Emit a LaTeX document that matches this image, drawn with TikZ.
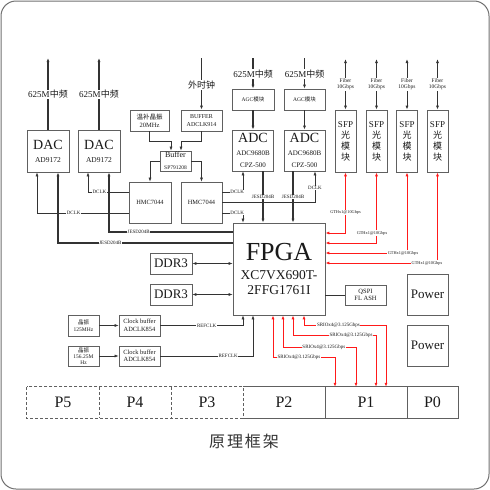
\documentclass[tikz,border=0pt]{standalone}
\usepackage{fontspec}
\setmainfont{Liberation Serif}
\newfontfamily\cjk{Noto Sans CJK SC}
\newfontfamily\capfont[LetterSpace=12]{Noto Sans CJK SC}
\usetikzlibrary{arrows.meta}
\definecolor{boxc}{HTML}{606060}
\definecolor{linec}{HTML}{333333}
\definecolor{txtc}{HTML}{1A1A1A}
\definecolor{framec}{HTML}{707070}
\definecolor{redc}{HTML}{FF1A1A}
\definecolor{capc}{HTML}{333333}
\newcommand\fsz[2]{\fontsize{#1}{#2}\selectfont}
\begin{document}
\begin{tikzpicture}[x=1pt,y=-1pt,
  box/.style={draw=boxc, line width=0.7pt, fill=white, inner sep=0pt, align=center, text=txtc},
  lbl/.style={fill=white, inner sep=0.6pt, text=txtc, font=\fsz{5}{5}, align=center},
  arr/.style={-{Latex[length=4pt,width=3pt]}},
  darr/.style={{Latex[length=4pt,width=3pt]}-{Latex[length=4pt,width=3pt]}},
  tline/.style={draw=linec, line width=0.6pt},
  mline/.style={draw=linec, line width=0.8pt},
  thk/.style={draw=linec, line width=1.1pt},
  redln/.style={draw=redc, line width=1pt},
  pbox/.style={inner sep=0pt, minimum height=31pt, text=txtc, font=\fsz{16}{16}},
  edge/.style={draw=boxc, line width=0.7pt}
]
\useasboundingbox (0,0) rectangle (490,490);
\draw[framec, line width=1pt, rounded corners=15pt] (1,1) rectangle (489,489);

% ---------- boxes ----------
\node[box, minimum width=42pt, minimum height=42pt] (dac1) at (48,151) {{\fsz{14}{14}DAC}\\[1pt]{\fsz{7.5}{8}AD9172}};
\node[box, minimum width=42pt, minimum height=42pt] (dac2) at (99,151) {{\fsz{14}{14}DAC}\\[1pt]{\fsz{7.5}{8}AD9172}};
\node[box, minimum width=39pt, minimum height=21pt, font=\fsz{6.5}{8}] (wb) at (149.5,120.5) {{\cjk 温补晶振}\\20MHz};
\node[box, minimum width=41pt, minimum height=21pt, font=\fsz{6}{7.5}] (b914) at (201.5,120.5) {BUFFER\\ADCLK914};
\node[box, minimum width=31pt, minimum height=20pt] (buf) at (175.5,161) {{\fsz{8}{8}Buffer}\\{\fsz{5.5}{6.5}SP791208}};
\node[box, minimum width=42pt, minimum height=41pt, font=\fsz{6.4}{7}] (hmc1) at (150,202.5) {HMC7044};
\node[box, minimum width=41pt, minimum height=41pt, font=\fsz{6.4}{7}] (hmc2) at (201.5,202.5) {HMC7044};
\node[box, minimum width=42pt, minimum height=21pt, font=\fsz{5.5}{6}] (agc1) at (253,99.5) {AGC{\cjk 模块}};
\node[box, minimum width=41pt, minimum height=21pt, font=\fsz{5.5}{6}] (agc2) at (304.5,99.5) {AGC{\cjk 模块}};
\node[box, minimum width=41pt, minimum height=41pt] (adc1) at (253,150.5) {{\fsz{14}{14}ADC}\\[1pt]{\fsz{7}{8.5}ADC9680B}\\{\fsz{7}{8.5}CPZ-500}};
\node[box, minimum width=41pt, minimum height=41pt] (adc2) at (304.5,150.5) {{\fsz{14}{14}ADC}\\[1pt]{\fsz{7}{8.5}ADC9680B}\\{\fsz{7}{8.5}CPZ-500}};
\node[box, minimum width=21pt, minimum height=62pt, font=\fsz{9}{11}] (sfp1) at (345.5,141) {SFP\\{\cjk 光}\\{\cjk 模}\\{\cjk 块}};
\node[box, minimum width=21pt, minimum height=62pt, font=\fsz{9}{11}] (sfp2) at (376.5,141) {SFP\\{\cjk 光}\\{\cjk 模}\\{\cjk 块}};
\node[box, minimum width=21pt, minimum height=62pt, font=\fsz{9}{11}] (sfp3) at (407,141) {SFP\\{\cjk 光}\\{\cjk 模}\\{\cjk 块}};
\node[box, minimum width=21pt, minimum height=62pt, font=\fsz{9}{11}] (sfp4) at (437.5,141) {SFP\\{\cjk 光}\\{\cjk 模}\\{\cjk 块}};
\node[box, minimum width=92pt, minimum height=92pt, font=\fsz{13.5}{15}] (fpga) at (279,269) {{\fsz{26}{26}FPGA}\\[4pt]XC7VX690T-\\2FFG1761I};
\node[box, minimum width=42pt, minimum height=21pt, font=\fsz{13}{13}] (ddr1) at (171,263.5) {DDR3};
\node[box, minimum width=42pt, minimum height=21pt, font=\fsz{13}{13}] (ddr2) at (171,294.5) {DDR3};
\node[box, minimum width=41pt, minimum height=20pt, font=\fsz{6.5}{7.5}] (qspi) at (365.5,295) {QSPI\\FL ASH};
\node[box, minimum width=41pt, minimum height=41pt, font=\fsz{13}{13}] (pw1) at (427.5,294.5) {Power};
\node[box, minimum width=41pt, minimum height=41pt, font=\fsz{13}{13}] (pw2) at (427.5,345.5) {Power};
\node[box, minimum width=31pt, minimum height=21pt, font=\fsz{5.5}{6.5}] (xz1) at (83.5,325.5) {{\cjk 晶振}\\125MHz};
\node[box, minimum width=31pt, minimum height=20pt, font=\fsz{5.5}{6}] (xz2) at (83.5,356) {{\cjk 晶振}\\156.25M\\Hz};
\node[box, minimum width=41pt, minimum height=21pt, font=\fsz{6.4}{7.5}] (cb1) at (139.5,325.5) {Clock buffer\\ADCLK854};
\node[box, minimum width=41pt, minimum height=20pt, font=\fsz{6.4}{7.5}] (cb2) at (139.5,356) {Clock buffer\\ADCLK854};

% bottom slots
\node[pbox, minimum width=72pt] (p5) at (63,402.5) {P5};
\node[pbox, minimum width=72pt] (p4) at (135,402.5) {P4};
\node[pbox, minimum width=72pt] (p3) at (207,402.5) {P3};
\node[pbox, minimum width=82pt] (p2) at (284,402.5) {P2};
\node[pbox, minimum width=82pt] (p1) at (366,402.5) {P1};
\node[pbox, minimum width=51pt] (p0) at (432.5,402.5) {P0};
\draw[edge, dash pattern=on 3pt off 2pt] (p5.north west) rectangle (p3.south east);
\draw[edge, dash pattern=on 3pt off 2pt] (p5.north east) -- (p5.south east) (p4.north east) -- (p4.south east);
\draw[edge] (p3.north east) -- (p0.north east) -- (p0.south east) -- (p3.south east);
\draw[edge] (p2.north east) -- (p2.south east) (p1.north east) -- (p1.south east);

% ---------- outputs / inputs at top ----------
\coordinate (dac1o) at (48,58);
\coordinate (dac2o) at (99,58);
\coordinate (extc) at (201.5,58);
\coordinate (adc1i) at (253,58);
\coordinate (adc2i) at (304.5,58);
\coordinate (f1) at (345.5,59);
\coordinate (f2) at (376.5,59);
\coordinate (f3) at (407,59);
\coordinate (f4) at (437.5,59);
\draw[thk,arr] (dac1.north) -- node[lbl,pos=0.49,font=\fsz{9}{9}] {625M{\cjk 中频}} (dac1o);
\draw[thk,arr] (dac2.north) -- node[lbl,pos=0.49,font=\fsz{9}{9}] {625M{\cjk 中频}} (dac2o);
\draw[thk,arr] (extc) -- node[lbl,pos=0.52,font=\fsz{9}{9}] {\cjk 外时钟} (b914.north);
\draw[thk,arr] (adc1i) -- node[lbl,pos=0.52,font=\fsz{9}{9}] {625M{\cjk 中频}} (agc1.north);
\draw[thk,arr] (adc2i) -- node[lbl,pos=0.52,font=\fsz{9}{9}] {625M{\cjk 中频}} (agc2.north);
\draw[thk,arr] (agc1.south) -- (adc1.north);
\draw[thk,arr] (agc2.south) -- (adc2.north);
\foreach \i in {1,2,3,4}{
  \draw[mline,darr] (f\i) -- node[lbl,font=\fsz{5.5}{6.5}] {Fiber\\10Gbps} (sfp\i.north);
}

% ---------- clock tree ----------
\draw[tline,arr] (wb.south) -- ++(0,10) -| ([xshift=-4.5pt]buf.north);
\draw[tline,arr] (b914.south) -- ++(0,10) -| ([xshift=5.5pt]buf.north);
\draw[tline,arr] (buf.west) -| (hmc1.north);
\draw[tline,arr] (buf.east) -| (hmc2.north);

% DCLK to DACs
\draw[tline,arr] ([yshift=10.5pt]hmc1.west) -| node[lbl,pos=0.36]{DCLK} ([xshift=-11pt]dac2.south);
\draw[tline,arr] ([yshift=-10.5pt]hmc1.west) -| node[lbl,pos=0.30]{DCLK} ([xshift=-11pt]dac1.south);
% JESD to DACs
\draw[thk,arr] ([yshift=37pt]fpga.west) -| node[lbl,pos=0.38]{JESD204B} ([xshift=10pt]dac2.south);
\draw[thk,arr] ([yshift=26pt]fpga.west) -| node[lbl,pos=0.35]{JESD204B} ([xshift=10pt]dac1.south);

% HMC2 to ADCs / FPGA
\draw[tline,arr] ([yshift=10.5pt]hmc2.east) -| node[lbl,pos=0.36]{DCLK} ([xshift=-10pt]adc1.south);
\draw[tline,arr] (hmc2.east) -| node[lbl,pos=0.735]{DCLK} ([xshift=10.5pt]adc2.south);
\draw[tline,arr] ([yshift=-10.5pt]hmc2.east) -| node[lbl,pos=0.36]{DCLK} ([xshift=-36pt]fpga.north);

% JESD from ADCs
\draw[thk,arr] ([xshift=10pt]adc1.south) -- node[lbl]{JESD204B} ([xshift=-16pt]fpga.north);
\draw[thk,arr] ([xshift=-11.5pt]adc2.south) -- node[lbl]{JESD204B} ([xshift=14pt]fpga.north);

% SFP links
\draw[redln,darr] ([yshift=36pt]fpga.east) -| node[lbl,pos=0.67,font=\fsz{4.3}{4.3}]{GTHx1@10Gbps} (sfp1.south);
\draw[redln,darr] ([yshift=26pt]fpga.east) -| node[lbl,pos=0.456,yshift=10pt,font=\fsz{4.3}{4.3}]{GTHx1@10Gbps} (sfp2.south);
\draw[redln,darr] ([yshift=16pt]fpga.east) -| node[lbl,pos=0.476,font=\fsz{4.3}{4.3}]{GTHx1@10Gbps} (sfp3.south);
\draw[redln,darr] ([yshift=6pt]fpga.east) -| node[lbl,pos=0.453,font=\fsz{4.3}{4.3}]{GTHx1@10Gbps} (sfp4.south);

% DDR and flash
\draw[tline,darr] (ddr1.east) -- (fpga.west |- ddr1.east);
\draw[tline,darr] (ddr2.east) -- (fpga.west |- ddr2.east);
\draw[tline] (fpga.east |- qspi.west) -- (qspi.west);

% reference clocks
\draw[tline,arr] (xz1.east) -- (cb1.west);
\draw[tline,arr] (xz2.east) -- (cb2.west);
\draw[tline,arr] (cb1.east) -| node[lbl,pos=0.28]{REFCLK} ([xshift=-36pt]fpga.south);
\draw[tline,arr] (cb2.east) -| node[lbl,pos=0.366]{REFCLK} ([xshift=-26pt]fpga.south);

% SRIO links
\draw[redln,darr] ([xshift=25pt]fpga.south) -- ++(0,10) -| node[lbl,pos=0.21]{SRIOx4@3.125Gbps} ([xshift=20pt]p1.north);
\draw[redln,darr] ([xshift=14pt]fpga.south) -- ++(0,20) -| node[lbl,pos=0.35]{SRIOx4@3.125Gbps} ([xshift=10pt]p1.north);
\draw[redln,darr] ([xshift=4pt]fpga.south) -- ++(0,32) -| node[lbl,pos=0.28]{SRIOx4@3.125Gbps} ([xshift=-10pt]p1.north);
\draw[redln,darr] ([xshift=-6pt]fpga.south) -- ++(0,42) -| node[lbl,pos=0.21]{SRIOx4@3.125Gbps} ([xshift=-31pt]p1.north);

% caption
\node[text=capc, font=\capfont\fontsize{16}{16}\selectfont] (cap) at (244,441) {原理框架};
\end{tikzpicture}
\end{document}
